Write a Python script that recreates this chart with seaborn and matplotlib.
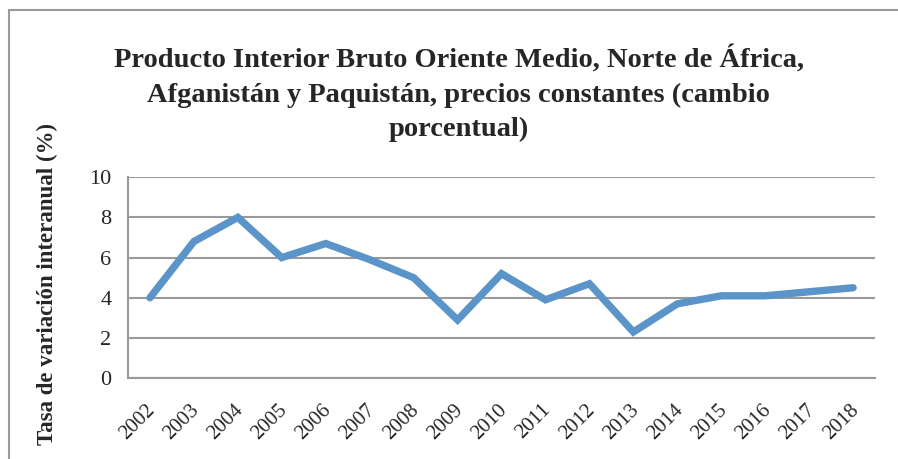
import matplotlib
matplotlib.use("Agg")
import matplotlib.pyplot as plt
from matplotlib.patches import Rectangle
from matplotlib.transforms import ScaledTranslation
import seaborn as sns
import pandas as pd

years = [str(y) for y in range(2002, 2019)]
growth = [4.0, 6.8, 8.0, 6.0, 6.7, 5.9, 5.0, 2.9, 5.2, 3.9, 4.7, 2.3, 3.7, 4.1, 4.1, 4.3, 4.5]

title = ("Producto Interior Bruto Oriente Medio, Norte de África,\n"
         "Afganistán y Paquistán, precios constantes (cambio\n"
         "porcentual)")
y_lab = "Tasa de variación interanual (%)"

df = pd.DataFrame({"year": years, "growth": growth})

sns.set_style("white")
plt.rcParams["font.family"] = ["Liberation Serif", "DejaVu Serif"]

grid_col = "#9a9a9a"
fig = plt.figure(figsize=(8.98, 4.59), dpi=100)
ax = fig.add_axes([0.1425, 0.176, 0.832, 0.438])

sns.lineplot(data=df, x="year", y="growth", color="#5B94C9", linewidth=5.3,
             sort=False, ax=ax, solid_capstyle="round", solid_joinstyle="miter")

n = len(years)
ax.set_xlim(-0.5, n - 0.5)
ax.set_ylim(0, 10)
ax.set_yticks(range(0, 11, 2))
ax.yaxis.grid(True, color=grid_col, linewidth=1.5)
ax.set_axisbelow(True)

# category boundary ticks, Excel style
ax.set_xticks(range(n))
ax.set_xticklabels(years, fontsize=15)
ax.set_xticks([i - 0.5 for i in range(n + 1)], minor=True)
ax.tick_params(axis="x", which="major", length=0, pad=16)
ax.tick_params(axis="x", which="minor", length=7, width=1.5, color=grid_col, direction="out")
ax.tick_params(axis="y", length=7, width=1.5, color=grid_col, direction="out", labelsize=16, pad=5)
shift = ScaledTranslation(-4 / 100, 0, fig.dpi_scale_trans)
for lab in ax.get_xticklabels():
    lab.set_rotation(45)
    lab.set_ha("right")
    lab.set_va("top")
    lab.set_rotation_mode("anchor")
    lab.set_transform(lab.get_transform() + shift)

for s in ["top", "right"]:
    ax.spines[s].set_visible(False)
for s in ["left", "bottom"]:
    ax.spines[s].set_color(grid_col)
    ax.spines[s].set_linewidth(1.5)

ax.set_xlabel("")
ax.set_ylabel(y_lab, fontsize=16.5, fontweight="bold")
ax.yaxis.set_label_coords(-0.093, 0.47)

fig.text(0.511, 1 - 45 / 459, title, ha="center", va="top", fontsize=20.5, fontweight="bold",
         linespacing=1.5)

fig.patches.append(Rectangle((9 / 898, -0.1), 1.2, 1 - 10 / 459 + 0.1, transform=fig.transFigure,
                             fill=False, edgecolor="#9a9a9a", linewidth=1.5))

fig.savefig("out.png", dpi=100)
